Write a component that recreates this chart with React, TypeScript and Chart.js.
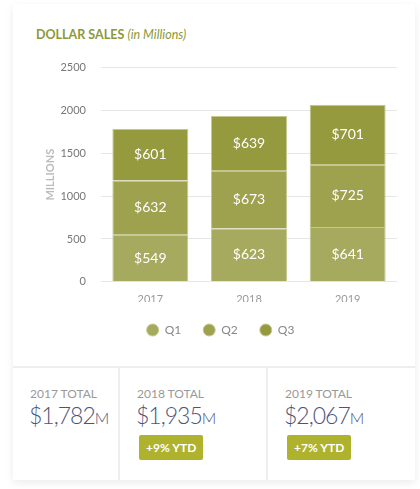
import React, { useEffect, useRef } from 'react'
import { Chart, registerables } from 'chart.js'

Chart.register(...registerables)

const years = ['2017', '2018', '2019']
const q1 = [549, 623, 641]
const q2 = [632, 673, 725]
const q3 = [601, 639, 701]
const totals = ['$1,782', '$1,935', '$2,067']
const ytd = ['', '+9% YTD', '+7% YTD']

const FONT = 'Lato, "Open Sans", sans-serif'

// white money labels in the middle of each bar segment
const segmentLabels = {
	id: 'segmentLabels',
	afterDatasetsDraw(chart: Chart) {
		const ctx = chart.ctx
		ctx.save()
		ctx.fillStyle = '#ffffff'
		ctx.font = `14px ${FONT}`
		ctx.textAlign = 'center'
		ctx.textBaseline = 'middle'
		chart.data.datasets.forEach((ds, i) => {
			const meta = chart.getDatasetMeta(i)
			meta.data.forEach((bar: any, j) => {
				const y = (bar.y + bar.base) / 2
				ctx.fillText('$' + ds.data[j], bar.x, y)
			})
		})
		ctx.restore()
	},
}

const SalesChart: React.FC = () => {
	const chartRef = useRef<HTMLCanvasElement>(null)

	useEffect(() => {
		if (!chartRef.current) return
		const context = chartRef.current.getContext('2d')
		if (!context) return
		const chart = new Chart(context, {
			type: 'bar',
			data: {
				labels: years,
				datasets: [
					{ label: 'Q1', data: q1, backgroundColor: '#a6aa5f' },
					{ label: 'Q2', data: q2, backgroundColor: '#9ea14e' },
					{ label: 'Q3', data: q3, backgroundColor: '#959a3e' },
				].map((d) => ({
					...d,
					borderColor: '#c4c890',
					borderWidth: 1,
					barPercentage: 0.77,
					categoryPercentage: 1,
				})),
			},
			options: {
				animation: false,
				responsive: false,
				layout: { padding: { left: 31, right: 18, top: 4, bottom: 6 } },
				plugins: {
					tooltip: { enabled: false },
					legend: {
						position: 'bottom',
						labels: {
							usePointStyle: true,
							pointStyle: 'circle',
							pointStyleWidth: 12,
							boxHeight: 8.5,
							padding: 22,
							color: '#888',
							font: { family: FONT, size: 12 },
						},
					},
				},
				scales: {
					x: {
						stacked: true,
						grid: { display: false },
						border: { display: false },
						ticks: { color: '#999', font: { family: FONT, size: 11 }, padding: 3 },
						afterFit: (scale: any) => {
							scale.height -= 7
						},
					},
					y: {
						stacked: true,
						min: 0,
						max: 2500,
						afterFit: (scale: any) => {
							scale.width = 57
						},
						border: { display: false },
						grid: { color: '#e6e6e6', drawTicks: false },
						ticks: {
							stepSize: 500,
							padding: 15,
							color: '#777',
							font: { family: FONT, size: 11 },
							callback: (v: any) => String(v),
						},
						title: {
							display: true,
							text: 'MILLIONS',
							color: '#bbb',
							font: { family: FONT, size: 11, weight: 'bold' },
							padding: 0,
						},
					},
				},
			},
			plugins: [segmentLabels],
		})
		return () => {
			chart.destroy()
		}
	}, [])

	return <canvas ref={chartRef} width={402} height={306} style={{ display: 'block' }} />
}

const App: React.FC = () => {
	useEffect(() => {
		document.body.style.margin = '0'
	}, [])

	return (
		<div
			style={{
				position: 'absolute',
				left: 13,
				top: 4,
				width: 402,
				height: 476,
				background: '#eeeeee',
				boxShadow: '0 3px 8px rgba(0,0,0,0.08)',
				fontFamily: FONT,
			}}
		>
			<div style={{ position: 'absolute', left: 0, top: 0, width: 402, height: 362, background: '#fff' }}>
				<div style={{ position: 'absolute', left: 23, top: 23, fontSize: 12.5, color: '#8d983a', whiteSpace: 'nowrap' }}>
					<span style={{ fontWeight: 'bold' }}>DOLLAR SALES</span>{' '}
					<span style={{ fontStyle: 'italic' }}>(in Millions)</span>
				</div>
				<div style={{ position: 'absolute', left: 0, top: 42 }}>
					<SalesChart />
				</div>
			</div>
			{years.map((yr, i) => {
				const lefts = [0, 107, 255]
				const widths = [105, 146, 147]
				return (
					<div
						key={yr}
						style={{
							position: 'absolute',
							left: lefts[i],
							top: 364,
							width: widths[i],
							height: 112,
							background: '#fff',
						}}
					>
						<div style={{ position: 'absolute', left: 17, top: 18, fontSize: 12, color: '#999' }}>{yr} TOTAL</div>
						<div
							style={{
								position: 'absolute',
								left: 16,
								top: 33,
								fontSize: 23,
								fontWeight: 300,
								letterSpacing: -1,
								color: '#4b5478',
								whiteSpace: 'nowrap',
							}}
						>
							{totals[i]}
							<span style={{ fontSize: 16, letterSpacing: 0 }}>M</span>
						</div>
						{ytd[i] && (
							<div
								style={{
									position: 'absolute',
									left: 19,
									top: 67,
									padding: '5px 7px',
									background: '#aeb22c',
									color: '#fff',
									fontSize: 12,
									fontWeight: 'bold',
									borderRadius: 2,
								}}
							>
								{ytd[i]}
							</div>
						)}
					</div>
				)
			})}
		</div>
	)
}

export default App
